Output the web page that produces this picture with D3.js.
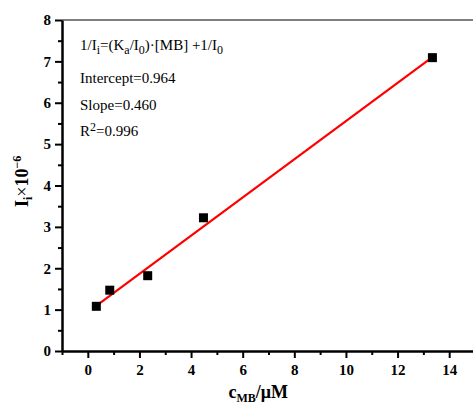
<!DOCTYPE html>
<meta charset="utf-8">
<style>
body { margin: 0; background: #fff; }
svg, svg text { font-family: "Liberation Serif", "Times New Roman", serif; }
.tick text { font-size: 15px; font-weight: bold; fill: #000; font-family: "Liberation Serif", serif; }
.fit { fill: none; stroke: #f00; stroke-width: 2.2px; }
</style>
<body>
<script src="https://d3js.org/d3.v7.min.js"></script>
<script>

// data
var cMB = [0.33, 0.85, 2.32, 4.48, 13.35];
var Ii = [1.08, 1.47, 1.82, 3.22, 7.09];
var fitX = [0.35, 13.35];
var fitY = [1.10, 7.10];
var xTicks = [0, 2, 4, 6, 8, 10, 12, 14];
var yTicks = [0, 1, 2, 3, 4, 5, 6, 7, 8];

var margin = {top: 20, right: -2, bottom: 56, left: 62},
    width = 473 - margin.left - margin.right,
    height = 407 - margin.top - margin.bottom;

var svg = d3.select("body").append("svg")
    .attr("width", 473)
    .attr("height", 407)
  .append("g")
    .attr("transform", "translate(" + margin.left + "," + margin.top + ")");

var x = d3.scaleLinear().domain([-1, 15]).range([0, width]);
var y = d3.scaleLinear().domain([0, 8]).range([height, 0]);

// top frame line
svg.append("line")
    .attr("x1", 0).attr("x2", width)
    .attr("y1", 0).attr("y2", 0)
    .style("stroke", "#555").style("stroke-width", 1.5);

// minor ticks
svg.append("g")
    .attr("transform", "translate(0," + height + ")")
    .call(d3.axisBottom(x).tickValues(d3.range(-1, 15, 2)).tickSize(4).tickFormat(""))
    .call(function(g) { g.select(".domain").remove(); g.selectAll("line").style("stroke-width", 2); });
svg.append("g")
    .call(d3.axisLeft(y).tickValues(d3.range(0.5, 8, 1)).tickSize(4).tickFormat(""))
    .call(function(g) { g.select(".domain").remove(); g.selectAll("line").style("stroke-width", 2); });

// x axis
var xa = svg.append("g")
    .attr("transform", "translate(0," + height + ")")
    .call(d3.axisBottom(x).tickValues(xTicks).tickSize(7).tickPadding(6).tickSizeOuter(0));
xa.attr("font-family", null).attr("font-size", null);
xa.select(".domain").style("stroke-width", 2.5);
xa.selectAll("line").style("stroke-width", 2);

// y axis
var ya = svg.append("g")
    .call(d3.axisLeft(y).tickValues(yTicks).tickSize(7).tickPadding(4).tickSizeOuter(0));
ya.attr("font-family", null).attr("font-size", null);
ya.select(".domain").style("stroke-width", 2.5);
ya.selectAll("line").style("stroke-width", 2);

// fit line
svg.append("path")
    .datum(d3.zip(fitX, fitY))
    .attr("class", "fit")
    .attr("d", d3.line().x(function(d) { return x(d[0]); }).y(function(d) { return y(d[1]); }));

// points
svg.selectAll(".pt")
    .data(d3.zip(cMB, Ii))
  .enter().append("rect")
    .attr("class", "pt")
    .attr("x", function(d) { return x(d[0]) - 4.5; })
    .attr("y", function(d) { return y(d[1]) - 4.5; })
    .attr("width", 9).attr("height", 9)
    .style("fill", "#000");

// annotation
var ann = svg.append("g").style("font-size", "15px").style("fill", "#000");
var t1 = ann.append("text").attr("x", 18).attr("y", 30);
t1.append("tspan").text("1/I");
t1.append("tspan").attr("dy", 4).style("font-size", "12px").text("i");
t1.append("tspan").attr("dy", -4).text("=(K");
t1.append("tspan").attr("dy", 4).style("font-size", "12px").text("a");
t1.append("tspan").attr("dy", -4).text("/I");
t1.append("tspan").attr("dy", 4).style("font-size", "12px").text("0");
t1.append("tspan").attr("dy", -4).text(")·[MB] +1/I");
t1.append("tspan").attr("dy", 4).style("font-size", "12px").text("0");
ann.append("text").attr("x", 18).attr("y", 63).text("Intercept=0.964");
ann.append("text").attr("x", 18).attr("y", 90).text("Slope=0.460");
var t4 = ann.append("text").attr("x", 18).attr("y", 116);
t4.append("tspan").text("R");
t4.append("tspan").attr("dy", -5).style("font-size", "12px").text("2");
t4.append("tspan").attr("dy", 5).text("=0.996");

// axis titles
var xl = svg.append("text")
    .attr("x", x(6.6)).attr("y", height + 47)
    .attr("text-anchor", "middle")
    .style("font-size", "18px").style("font-weight", "bold");
xl.append("tspan").text("c");
xl.append("tspan").attr("dy", 4).style("font-size", "12px").text("MB");
xl.append("tspan").attr("dy", -4).text("/μM");

var yl = svg.append("text")
    .attr("transform", "translate(-34," + y(4.1) + ") rotate(-90)")
    .attr("text-anchor", "middle")
    .style("font-size", "18px").style("font-weight", "bold");
yl.append("tspan").text("I");
yl.append("tspan").attr("dy", 4).style("font-size", "12px").text("i");
yl.append("tspan").attr("dy", -4).style("font-weight", "normal").text("×");
yl.append("tspan").text("10");
yl.append("tspan").attr("dy", -7).style("font-size", "12px").text("−6");

</script>
</body>
